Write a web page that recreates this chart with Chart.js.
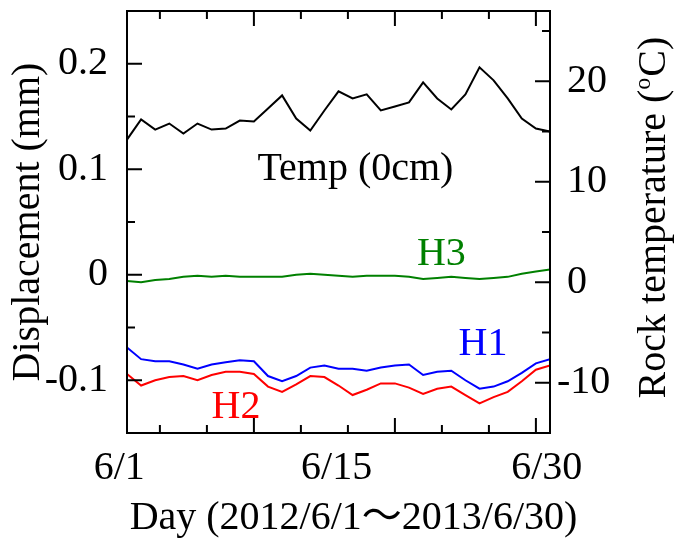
<!DOCTYPE html>
<html>
<head>
<meta charset="utf-8">
<title>Displacement and rock temperature</title>
<script src="https://cdn.jsdelivr.net/npm/chart.js@4"></script>
<style>
  html, body { margin: 0; padding: 0; background: #fff; }
  canvas { display: block; }
</style>
</head>
<body>
<canvas id="chart" width="678" height="547"></canvas>
<script>
// Data
const days = [1, 2, 3, 4, 5, 6, 7, 8, 9, 10, 11, 12, 13, 14, 15, 16,
              17, 18, 19, 20, 21, 22, 23, 24, 25, 26, 27, 28, 29, 30, 31];

// Rock temperature at 0cm (deg C, right axis)
const tempValues = [14.2, 16.2, 15.2, 15.8, 14.8, 15.8, 15.2, 15.3, 16.1, 16.0, 17.3, 18.6, 16.3, 15.1, 17.1, 19.0,
                    18.3, 18.7, 17.1, 17.5, 17.9, 19.9, 18.3, 17.2, 18.7, 21.4, 20.1, 18.3, 16.3, 15.3, 15.0];

// Displacement (mm, left axis)
const h1Values = [-0.069, -0.080, -0.082, -0.082, -0.085, -0.089, -0.085, -0.083, -0.081, -0.082, -0.096, -0.101, -0.096, -0.088, -0.086, -0.089,
                  -0.089, -0.091, -0.088, -0.086, -0.085, -0.095, -0.092, -0.091, -0.100, -0.108, -0.106, -0.101, -0.093, -0.084, -0.080];
const h2Values = [-0.094, -0.105, -0.100, -0.097, -0.096, -0.100, -0.095, -0.092, -0.092, -0.094, -0.106, -0.111, -0.104, -0.096, -0.097, -0.105,
                  -0.114, -0.109, -0.103, -0.103, -0.107, -0.113, -0.108, -0.106, -0.114, -0.122, -0.116, -0.111, -0.101, -0.090, -0.086];
const h3Values = [-0.006, -0.007, -0.005, -0.004, -0.002, -0.001, -0.002, -0.001, -0.002, -0.002, -0.002, -0.002, 0.000, 0.001, 0.000, -0.001,
                  -0.002, -0.001, -0.001, -0.001, -0.002, -0.004, -0.003, -0.002, -0.003, -0.004, -0.003, -0.002, 0.001, 0.003, 0.005];

// Ticks
const dispTicks = [-0.1, 0, 0.1, 0.2];
const dispMinorTicks = [-0.05, 0.05, 0.15];
const tempTicks = [-10, 0, 10, 20];
const tempMinorTicks = [-5, 5, 15, 25];
const dayTicks = [10, 20, 30];
const dayMinorTicks = [3.333, 6.667, 13.333, 16.667, 23.333, 26.667];
const dateLabels = ['6/1', '6/15', '6/30'];
const dateLabelDays = [0.45, 15.87, 30.77];

const FONT = "'Liberation Serif', 'Times New Roman', serif";
const CJK_FONT = "'Liberation Serif', 'Noto Sans CJK JP', serif";

function toPoints(values) {
    return values.map((v, i) => ({ x: days[i], y: v }));
}

// Series labels placed inside the plot (day, value, axis)
const notes = [
    { text: 'Temp (0cm)', day: 17.2, value: 10.2, axis: 'yTemp', color: '#000000' },
    { text: 'H3', day: 23.3, value: 0.009, axis: 'yDisp', color: '#008000' },
    { text: 'H1', day: 26.25, value: -0.076, axis: 'yDisp', color: '#0000ff' },
    { text: 'H2', day: 8.73, value: -0.136, axis: 'yDisp', color: '#ff0000' }
];

/**
 * Frame, inward tick marks, in-plot labels and the titles Chart.js can't place
 */
const framePlugin = {
    id: 'frame',
    afterDraw(chart) {
        const { ctx, chartArea: a, scales } = chart;
        const xs = scales.x, yd = scales.yDisp, yt = scales.yTemp;
        ctx.save();
        ctx.strokeStyle = '#000';
        ctx.lineWidth = 2;
        ctx.strokeRect(a.left, a.top, a.right - a.left, a.bottom - a.top);

        ctx.beginPath();
        const seg = (x1, y1, x2, y2) => { ctx.moveTo(x1, y1); ctx.lineTo(x2, y2); };
        dispTicks.forEach(v => { const p = yd.getPixelForValue(v); seg(a.left, p, a.left + 15, p); });
        dispMinorTicks.forEach(v => { const p = yd.getPixelForValue(v); seg(a.left, p, a.left + 8, p); });
        tempTicks.forEach(v => { const p = yt.getPixelForValue(v); seg(a.right, p, a.right - 15, p); });
        tempMinorTicks.forEach(v => { const p = yt.getPixelForValue(v); seg(a.right, p, a.right - 8, p); });
        dayTicks.forEach(v => {
            const p = xs.getPixelForValue(v);
            seg(p, a.top, p, a.top + 15);
            seg(p, a.bottom, p, a.bottom - 15);
        });
        dayMinorTicks.forEach(v => {
            const p = xs.getPixelForValue(v);
            seg(p, a.top, p, a.top + 8);
            seg(p, a.bottom, p, a.bottom - 8);
        });
        ctx.stroke();

        // in-plot series labels
        ctx.font = '40px ' + FONT;
        ctx.textAlign = 'center';
        ctx.textBaseline = 'alphabetic';
        notes.forEach(n => {
            ctx.fillStyle = n.color;
            ctx.fillText(n.text, xs.getPixelForValue(n.day), scales[n.axis].getPixelForValue(n.value));
        });

        // x axis title
        ctx.fillStyle = '#000';
        ctx.font = '40px ' + CJK_FONT;
        ctx.fillText('Day (2012/6/1\uFF5E2013/6/30)', 353.5, 529);

        // right axis title, reading bottom to top, with superscript o
        ctx.translate(665, 217.5);
        ctx.rotate(-Math.PI / 2);
        ctx.textAlign = 'left';
        const big = '40px ' + FONT, small = '24px ' + FONT;
        ctx.font = big;
        const w1 = ctx.measureText('Rock temperature (').width;
        const w3 = ctx.measureText('C)').width;
        ctx.font = small;
        const w2 = ctx.measureText('o').width + 1;
        let x0 = -(w1 + w2 + w3) / 2;
        ctx.font = big;
        ctx.fillText('Rock temperature (', x0, 0);
        ctx.font = small;
        ctx.fillText('o', x0 + w1, -15);
        ctx.font = big;
        ctx.fillText('C)', x0 + w1 + w2, 0);
        ctx.restore();
    }
};

const lineStyle = { borderWidth: 2, pointRadius: 0, tension: 0, fill: false };

new Chart(document.getElementById('chart'), {
    type: 'line',
    data: {
        datasets: [
            { label: 'Temp (0cm)', data: toPoints(tempValues), yAxisID: 'yTemp', borderColor: '#000000', ...lineStyle },
            { label: 'H3', data: toPoints(h3Values), yAxisID: 'yDisp', borderColor: '#008000', ...lineStyle },
            { label: 'H1', data: toPoints(h1Values), yAxisID: 'yDisp', borderColor: '#0000ff', ...lineStyle },
            { label: 'H2', data: toPoints(h2Values), yAxisID: 'yDisp', borderColor: '#ff0000', ...lineStyle }
        ]
    },
    options: {
        responsive: false,
        animation: false,
        devicePixelRatio: 1,
        layout: { padding: { top: 11, left: 0, right: 0, bottom: 0 } },
        plugins: {
            legend: { display: false },
            tooltip: { enabled: false }
        },
        scales: {
            x: {
                type: 'linear',
                min: 1,
                max: 31,
                grid: { display: false, drawTicks: false },
                border: { display: false },
                afterBuildTicks: s => { s.ticks = dateLabelDays.map(v => ({ value: v })); },
                ticks: {
                    padding: 11,
                    autoSkip: false,
                    maxRotation: 0,
                    color: '#000',
                    font: { family: FONT, size: 40 },
                    callback: (v, i) => dateLabels[i]
                },
                afterFit: s => { s.height = 114; s.paddingLeft = 0; s.paddingRight = 0; }
            },
            yDisp: {
                type: 'linear',
                position: 'left',
                min: -0.15,
                max: 0.25,
                grid: { display: false, drawTicks: false },
                border: { display: false },
                afterBuildTicks: s => { s.ticks = dispTicks.map(v => ({ value: v })); },
                ticks: {
                    padding: 19,
                    color: '#000',
                    font: { family: FONT, size: 40 },
                    callback: v => String(Math.round(v * 10) / 10)
                },
                title: {
                    display: true,
                    text: 'Displacement (mm)',
                    color: '#000',
                    font: { family: FONT, size: 40 },
                    padding: { top: 4, bottom: 0 }
                },
                afterFit: s => { s.width = 127; s.paddingTop = 0; s.paddingBottom = 0; }
            },
            yTemp: {
                type: 'linear',
                position: 'right',
                min: -15,
                max: 27,
                grid: { display: false, drawTicks: false },
                border: { display: false },
                afterBuildTicks: s => { s.ticks = tempTicks.map(v => ({ value: v })); },
                ticks: {
                    padding: 7,
                    color: '#000',
                    font: { family: FONT, size: 40 },
                    // a leading space keeps the digits lined up with the hanging minus of -10
                    callback: v => (v < 0 ? '' : ' ') + String(v)
                },
                afterFit: s => { s.width = 128; s.paddingTop = 0; s.paddingBottom = 0; }
            }
        }
    },
    plugins: [framePlugin]
});
</script>
</body>
</html>
